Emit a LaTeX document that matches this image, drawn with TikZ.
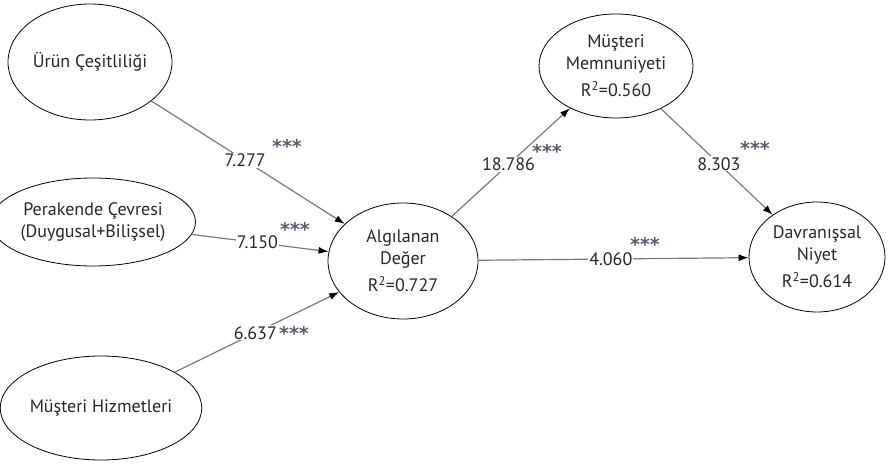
\documentclass[tikz,border=0pt]{standalone}
\usepackage{fontspec}
\setmainfont{PT Sans}
\newfontfamily\starfont{DejaVu Sans}
\usetikzlibrary{shapes.geometric,arrows.meta}
\definecolor{txt}{HTML}{262626}
\definecolor{edgegray}{HTML}{7A7A7A}
\definecolor{stargray}{HTML}{5E5A6E}
\begin{document}
\begin{tikzpicture}[x=1pt,y=-1pt,
  lat/.style={ellipse,draw=black,line width=0.8pt,inner sep=0pt,align=center,
    font=\fontsize{18}{22}\selectfont,text=txt},
  relpath/.style={draw=edgegray,line width=1.2pt,
    -{Latex[length=10pt,width=7pt,color=black]}},
  coef/.style={fill=white,inner sep=1pt,font=\fontsize{18}{20}\selectfont,text=txt},
  stars/.style={font=\starfont\bfseries\fontsize{19}{20}\selectfont,text=stargray,inner sep=0pt,anchor=north}]
\useasboundingbox (0,0) rectangle (889,465);
\node[lat,minimum width=164pt,minimum height=116pt] (u) at (90,62) {Ürün Çeşitliliği};
\node[lat,minimum width=184pt,minimum height=88pt] (p) at (93,222) {Perakende Çevresi\\(Duygusal+Bilişsel)};
\node[lat,minimum width=184pt,minimum height=104pt] (h) at (101,408) {Müşteri Hizmetleri};
\node[lat,minimum width=150pt,minimum height=116pt] (a) at (403,261) {Algılanan\\Değer\\[5pt]R\textsuperscript{2}=0.727};
\node[lat,minimum width=154pt,minimum height=104pt] (m) at (616,66) {Müşteri\\Memnuniyeti\\[5pt]R\textsuperscript{2}=0.560};
\node[lat,minimum width=136pt,minimum height=110pt] (d) at (817,257) {Davranışsal\\Niyet\\[5pt]R\textsuperscript{2}=0.614};
\draw[relpath] (u) -- node[coef,pos=0.485] (l1) {7.277} (a);
\draw[relpath] (p) -- node[coef,pos=0.48] (l2) {7.150} (a);
\draw[relpath] (h) -- node[coef,pos=0.49] (l3) {6.637} (a);
\draw[relpath] (a) -- node[coef,pos=0.48] (l4) {18.786} (m);
\draw[relpath] (m) -- node[coef,pos=0.52] (l5) {8.303} (d);
\draw[relpath] (a) -- node[coef,pos=0.49] (l6) {4.060} (d);
\node[stars] (s1) at (287,139) {***};
\node[stars] (s2) at (295,222) {***};
\node[stars] (s3) at (294,326) {***};
\node[stars] (s4) at (547,144) {***};
\node[stars] (s5) at (755,141) {***};
\node[stars] (s6) at (645,237) {***};
\end{tikzpicture}
\end{document}
